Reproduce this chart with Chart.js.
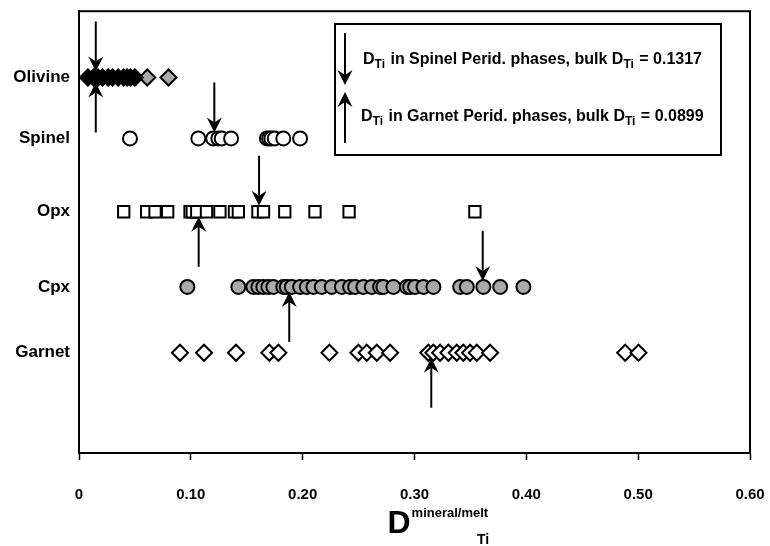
<!DOCTYPE html>
<html>
<head>
<meta charset="utf-8">
<script src="https://cdn.jsdelivr.net/npm/chart.js@4/dist/chart.umd.min.js"></script>
<style>
  html, body { margin: 0; padding: 0; background: #ffffff; }
  #wrap { width: 770px; height: 546px; }
</style>
</head>
<body>
<div id="wrap"><canvas id="chart" width="770" height="546"></canvas></div>
<script>
// Ti mineral/melt partition coefficients by phase
const minerals = ['Olivine', 'Spinel', 'Opx', 'Cpx', 'Garnet'];
// level of each phase row on the vertical axis
const rowLevel = [8.5, 7.12, 5.46, 3.76, 2.27];

const olivineA = [0.008, 0.013, 0.017, 0.021, 0.026, 0.030, 0.035, 0.040, 0.043, 0.046, 0.050];
const olivineB = [0.061, 0.080];
const spinel = [0.0456, 0.1067, 0.120, 0.1246, 0.1276, 0.136, 0.168, 0.170, 0.172, 0.175, 0.1827, 0.1977];
const opx = [0.040, 0.0605, 0.068, 0.0793, 0.0993, 0.1013, 0.1053, 0.114, 0.126, 0.139, 0.1425,
             0.160, 0.165, 0.184, 0.211, 0.2415, 0.354];
const cpx = [0.0969, 0.1425, 0.1559, 0.1604, 0.1648, 0.1693, 0.1738, 0.1827, 0.1858, 0.1903, 0.1977,
             0.2037, 0.2096, 0.2171, 0.2260, 0.2350, 0.2424, 0.2469, 0.2543, 0.2618, 0.2692, 0.2722,
             0.2811, 0.2931, 0.2961, 0.3005, 0.3080, 0.3169, 0.3408, 0.3468, 0.3616, 0.3766, 0.3974];
const garnet = [0.0903, 0.1118, 0.1404, 0.1702, 0.1783, 0.2239, 0.2498, 0.2573, 0.2663, 0.2782,
                0.3124, 0.3169, 0.3229, 0.3303, 0.3378, 0.3437, 0.3497, 0.3557, 0.3676, 0.4884, 0.5003];

// D_Ti of each phase within spinel and garnet peridotite (arrows)
const spinelPeridD = [0.015, 0.121, 0.161, 0.361, null];
const garnetPeridD = [0.015, null, 0.107, 0.188, 0.315];
const bulkSpinel = '0.1317';
const bulkGarnet = '0.0899';

const xTicks = [0, 0.1, 0.2, 0.3, 0.4, 0.5, 0.6];

const FONT = '"Liberation Sans", Arial, Helvetica, sans-serif';
const GRAY = '#a9a9a9';

function pts(values, row) {
  return values.map(v => ({ x: v, y: rowLevel[row] }));
}

const datasets = [
  { label: 'Olivine', data: pts(olivineA, 0), pointStyle: 'rectRot', pointRadius: 8, backgroundColor: '#000', borderColor: '#000', borderWidth: 2 },
  { label: 'Olivine', data: pts(olivineB, 0), pointStyle: 'rectRot', pointRadius: 8, backgroundColor: GRAY, borderColor: '#000', borderWidth: 2 },
  { label: 'Spinel', data: pts(spinel, 1), pointStyle: 'circle', pointRadius: 7, backgroundColor: '#fff', borderColor: '#000', borderWidth: 2 },
  { label: 'Opx', data: pts(opx, 2), pointStyle: 'rect', pointRadius: 8, backgroundColor: '#fff', borderColor: '#000', borderWidth: 2 },
  { label: 'Cpx', data: pts(cpx, 3), pointStyle: 'circle', pointRadius: 7, backgroundColor: GRAY, borderColor: '#000', borderWidth: 2 },
  { label: 'Garnet', data: pts(garnet, 4), pointStyle: 'rectRot', pointRadius: 8, backgroundColor: '#fff', borderColor: '#000', borderWidth: 2 }
];

function arrow(ctx, x, tipY, dir, len) {
  // dir = 1 points down, -1 points up
  const head = 15, half = 7.5, notch = 5;
  ctx.beginPath();
  ctx.moveTo(x, tipY - dir * len);
  ctx.lineTo(x, tipY - dir * (head - notch));
  ctx.stroke();
  ctx.beginPath();
  ctx.moveTo(x, tipY);
  ctx.lineTo(x - half, tipY - dir * head);
  ctx.lineTo(x, tipY - dir * (head - notch));
  ctx.lineTo(x + half, tipY - dir * head);
  ctx.closePath();
  ctx.fill();
}

// text line where each {Ti} becomes a subscript
function keyLine(ctx, x, y, text, size) {
  const parts = text.split('{Ti}');
  parts.forEach((p, k) => {
    ctx.font = 'bold ' + size + 'px ' + FONT;
    ctx.fillText(p, x, y);
    x += ctx.measureText(p).width;
    if (k < parts.length - 1) {
      ctx.font = 'bold ' + Math.round(size * 0.72) + 'px ' + FONT;
      ctx.fillText('Ti', x, y + 4);
      x += ctx.measureText('Ti').width + 1;
    }
  });
}

const decor = {
  id: 'decor',
  afterDatasetsDraw(chart) {
    const { ctx, chartArea: a, scales } = chart;
    ctx.save();
    ctx.strokeStyle = '#000';
    ctx.fillStyle = '#000';
    ctx.lineWidth = 2;
    // frame around the plot
    ctx.strokeRect(a.left, a.top, a.right - a.left, a.bottom - a.top);

    // phase arrows
    minerals.forEach((m, i) => {
      const y = scales.y.getPixelForValue(rowLevel[i]);
      if (spinelPeridD[i] != null) {
        arrow(ctx, scales.x.getPixelForValue(spinelPeridD[i]), y - 6, 1, 50);
      }
      if (garnetPeridD[i] != null) {
        arrow(ctx, scales.x.getPixelForValue(garnetPeridD[i]), y + 5, -1, 50);
      }
    });

    // key box
    const bx = 335, by = 24, bw = 386, bh = 131;
    ctx.fillStyle = '#fff';
    ctx.fillRect(bx, by, bw, bh);
    ctx.strokeRect(bx, by, bw, bh);
    ctx.fillStyle = '#000';
    arrow(ctx, bx + 10, by + 61, 1, 52);
    arrow(ctx, bx + 10, by + 68, -1, 51);
    ctx.textBaseline = 'alphabetic';
    ctx.textAlign = 'left';
    keyLine(ctx, bx + 28, by + 40, 'D{Ti} in Spinel Perid. phases, bulk D{Ti} = ' + bulkSpinel, 16);
    keyLine(ctx, bx + 26, by + 97, 'D{Ti} in Garnet Perid. phases, bulk D{Ti} = ' + bulkGarnet, 16);

    // axis title: D with superscript mineral/melt and subscript Ti
    const cx = (a.left + a.right) / 2;
    let tx = cx - 27;
    ctx.font = 'bold 32px ' + FONT;
    ctx.fillText('D', tx, 533);
    tx += ctx.measureText('D').width + 1;
    ctx.font = 'bold 13px ' + FONT;
    ctx.fillText('mineral/melt', tx, 517);
    const supEnd = tx + ctx.measureText('mineral/melt').width;
    ctx.font = 'bold 14px ' + FONT;
    ctx.textAlign = 'right';
    ctx.fillText('Ti', supEnd + 1, 544);
    ctx.restore();
  }
};

new Chart(document.getElementById('chart'), {
  type: 'scatter',
  data: { datasets },
  options: {
    responsive: false,
    animation: false,
    layout: { padding: { top: 6, right: 20, left: 0, bottom: 0 } },
    plugins: { legend: { display: false }, tooltip: { enabled: false } },
    scales: {
      x: {
        type: 'linear', min: 0, max: 0.6,
        afterBuildTicks(scale) { scale.ticks = xTicks.map(v => ({ value: v })); },
        afterFit(scale) { scale.height = 93; scale.paddingRight = 20; scale.paddingLeft = 0; },
        ticks: {
          color: '#000', padding: 26,
          font: { family: FONT, size: 15, weight: 'bold' },
          callback: v => (v === 0 ? '0' : v.toFixed(2))
        },
        grid: { display: true, drawOnChartArea: false, color: '#000', tickLength: 7, tickWidth: 1.5 },
        border: { display: true, color: '#000', width: 2 }
      },
      y: {
        type: 'linear', min: 0, max: 10,
        afterBuildTicks(scale) { scale.ticks = rowLevel.map(v => ({ value: v })); },
        afterFit(scale) { scale.width = 79; },
        ticks: {
          color: '#000', padding: 1,
          font: { family: FONT, size: 17, weight: 'bold' },
          callback: v => minerals[rowLevel.indexOf(v)]
        },
        grid: { display: false },
        border: { display: true, color: '#000', width: 2 }
      }
    }
  },
  plugins: [decor]
});
</script>
</body>
</html>
